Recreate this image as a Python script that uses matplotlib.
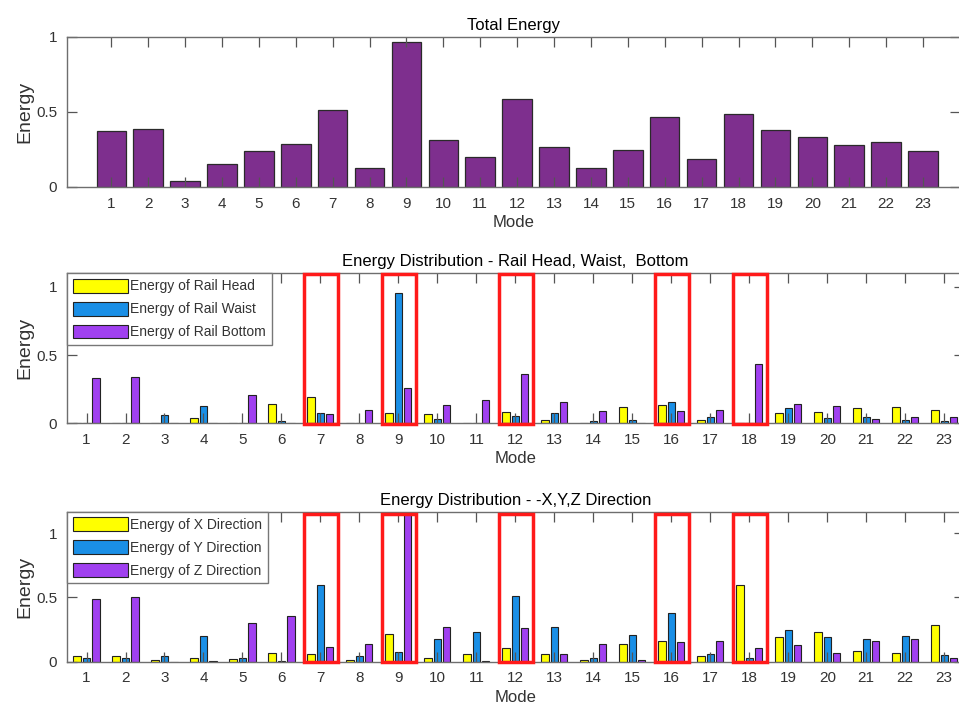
import numpy as np
import matplotlib
matplotlib.use("Agg")
from matplotlib import pyplot as plt
from matplotlib.patches import Rectangle

plt.rcParams['font.family'] = ['Liberation Sans', 'DejaVu Sans']

modes = np.arange(1, 24)
highlight = [7, 9, 12, 16, 18]

total_energy = [0.371, 0.382, 0.038, 0.151, 0.238, 0.287, 0.509, 0.127, 0.967, 0.313,
                0.196, 0.584, 0.264, 0.127, 0.242, 0.462, 0.182, 0.487, 0.378, 0.331,
                0.280, 0.296, 0.240]

rail_head = [0.0, 0.0, 0.0, 0.039, 0.0, 0.139, 0.193, 0.0, 0.076, 0.071,
             0.0, 0.080, 0.027, 0.003, 0.117, 0.132, 0.027, 0.0, 0.078, 0.085,
             0.110, 0.120, 0.095]
rail_waist = [0.0, 0.0, 0.061, 0.127, 0.002, 0.020, 0.078, 0.0, 0.956, 0.029,
              0.0, 0.054, 0.076, 0.020, 0.024, 0.159, 0.046, 0.0, 0.115, 0.037,
              0.044, 0.027, 0.017]
rail_bottom = [0.329, 0.337, 0.0, 0.0, 0.205, 0.0, 0.071, 0.098, 0.256, 0.134,
               0.171, 0.359, 0.154, 0.093, 0.002, 0.093, 0.098, 0.432, 0.144, 0.127,
               0.034, 0.044, 0.044]

x_dir = [0.047, 0.044, 0.013, 0.026, 0.021, 0.070, 0.062, 0.013, 0.215, 0.028,
         0.057, 0.109, 0.062, 0.016, 0.137, 0.163, 0.047, 0.596, 0.192, 0.231,
         0.083, 0.070, 0.282]
y_dir = [0.031, 0.031, 0.044, 0.200, 0.031, 0.005, 0.593, 0.044, 0.073, 0.176,
         0.233, 0.513, 0.272, 0.031, 0.207, 0.378, 0.060, 0.026, 0.244, 0.192,
         0.176, 0.202, 0.052]
z_dir = [0.487, 0.500, 0.0, 0.005, 0.300, 0.357, 0.111, 0.137, 1.25, 0.272,
         0.005, 0.259, 0.057, 0.137, 0.016, 0.150, 0.163, 0.109, 0.127, 0.070,
         0.163, 0.174, 0.028]

YELLOW = '#ffff00'
BLUE = '#1a8fe6'
PURPLE = '#a040f0'
TOTAL = '#7e2f8e'


def style_axes(ax):
    for s in ax.spines.values():
        s.set_color('#6e6e6e')
        s.set_linewidth(1.0)
    ax.tick_params(direction='in', top=True, right=True, length=7,
                   width=0.9, color='#555555', labelsize=11,
                   labelcolor='#333333', pad=7)
    ax.set_xticks(modes)
    ax.set_xlabel('Mode', fontsize=12, color='#333333', labelpad=3)
    ax.set_ylabel('Energy', fontsize=14, color='#333333')
    ax.yaxis.set_label_coords(-0.038, 0.5)


def grouped(ax, series, colors, labels):
    offs = [-0.24, 0.0, 0.24]
    for vals, c, lab, o in zip(series, colors, labels, offs):
        ax.bar(modes + o, vals, width=0.19, color=c, edgecolor='#222222',
               linewidth=0.8, label=lab)
    leg = ax.legend(loc='upper left', bbox_to_anchor=(0, 1), borderaxespad=0,
                    fancybox=False, fontsize=10, handlelength=4.0,
                    handleheight=1.15, handletextpad=0.15, labelspacing=0.6,
                    borderpad=0.4, framealpha=1)
    leg.get_frame().set_edgecolor('#777777')
    leg.get_frame().set_linewidth(1.0)
    for t in leg.get_texts():
        t.set_color('#333333')


def boxes(ax, top):
    for m in highlight:
        ax.add_patch(Rectangle((m - 0.43, -0.005), 0.88, top, fill=False,
                               edgecolor='#ff1a1a', linewidth=2.5,
                               clip_on=False, zorder=5))


fig = plt.figure(figsize=(9.59, 7.13), dpi=100)

# total energy
ax1 = fig.add_axes([0.0699, 0.738, 0.931, 0.2105])
ax1.bar(modes, total_energy, width=0.8, color=TOTAL, edgecolor='#2a2a2a', linewidth=0.9)
ax1.set_xlim(-0.2, 24)
ax1.set_ylim(0, 1)
ax1.set_yticks([0, 0.5, 1])
ax1.set_yticklabels(['0', '0.5', '1'])
style_axes(ax1)
ax1.set_title('Total Energy', fontsize=12, pad=5)

# rail head / waist / bottom
ax2 = fig.add_axes([0.0699, 0.4063, 0.935, 0.2104])
grouped(ax2, [rail_head, rail_waist, rail_bottom], [YELLOW, BLUE, PURPLE],
        ['Energy of Rail Head', 'Energy of Rail Waist', 'Energy of Rail Bottom'])
ax2.set_xlim(0.5, 23.5)
ax2.set_ylim(0, 1.1)
ax2.set_yticks([0, 0.5, 1])
ax2.set_yticklabels(['0', '0.5', '1'])
style_axes(ax2)
ax2.set_title('Energy Distribution - Rail Head, Waist,  Bottom', fontsize=12, pad=5)
boxes(ax2, 1.1)

# x / y / z direction
ax3 = fig.add_axes([0.0699, 0.072, 0.935, 0.2103])
grouped(ax3, [x_dir, y_dir, z_dir], [YELLOW, BLUE, PURPLE],
        ['Energy of X Direction', 'Energy of Y Direction', 'Energy of Z Direction'])
ax3.set_xlim(0.5, 23.5)
ax3.set_ylim(0, 1.166)
ax3.set_yticks([0, 0.5, 1])
ax3.set_yticklabels(['0', '0.5', '1'])
style_axes(ax3)
ax3.set_title('Energy Distribution - -X,Y,Z Direction', fontsize=12, pad=5)
boxes(ax3, 1.15)

fig.savefig('out.png', dpi=100)
